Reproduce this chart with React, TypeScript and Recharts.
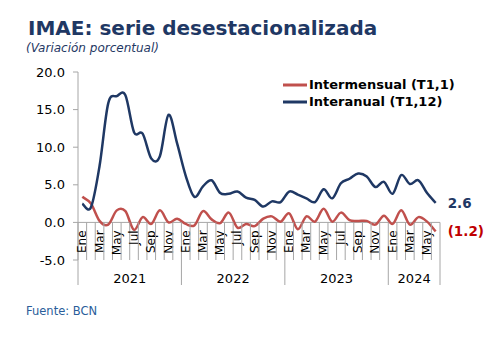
import React from 'react';
import { LineChart, Line, XAxis, YAxis, ReferenceLine, Legend, LabelList } from 'recharts';

// Serie mensual ene-2021 a jun-2024
const MONTHS = ['Ene', 'Feb', 'Mar', 'Abr', 'May', 'Jun', 'Jul', 'Ago', 'Sep', 'Oct', 'Nov', 'Dic'];
const YEARS = [2021, 2022, 2023, 2024];
const INTERANUAL = [
  2.5, 2.0, 7.5, 15.8, 16.8, 16.9, 12.0, 11.8, 8.5, 8.8, 14.3, 10.5,
  6.2, 3.4, 4.8, 5.6, 3.9, 3.8, 4.1, 3.3, 3.0, 2.1, 2.8, 2.7,
  4.1, 3.7, 3.2, 2.7, 4.4, 3.2, 5.2, 5.8, 6.5, 6.1, 4.7, 5.4,
  3.8, 6.3, 5.1, 5.6, 3.9, 2.6,
];
const INTERMENSUAL = [
  3.4, 2.5, 0.2, -0.3, 1.6, 1.5, -1.0, 0.7, -0.2, 1.6, 0.0, 0.5,
  -0.2, -0.4, 1.5, 0.4, -0.1, 1.3, -0.7, -0.2, -0.5, 0.5, 0.8, 0.1,
  1.2, -0.9, 0.8, 0.1, 1.8, 0.1, 1.3, 0.3, 0.2, 0.2, -0.3, 0.9,
  -0.2, 1.6, -0.3, 0.7, 0.1, -1.2,
];
const Y_TICKS = [-5, 0, 5, 10, 15, 20];
const LEGEND_ORDER = ['intermensual', 'interanual'];

const data = INTERANUAL.map((v, i) => ({
  mes: MONTHS[i % 12],
  anio: YEARS[Math.floor(i / 12)],
  interanual: v,
  intermensual: INTERMENSUAL[i],
}));

const W = 496;
const H = 353;
const PLOT_LEFT = 78;
const PLOT_RIGHT = 440;
const PLOT_TOP = 72;
const PLOT_BOTTOM = 260;
const Y_MIN = -5;
const Y_MAX = 20;
const BAND = (PLOT_RIGHT - PLOT_LEFT) / data.length;
const ZERO_Y = PLOT_TOP + ((PLOT_BOTTOM - PLOT_TOP) * Y_MAX) / (Y_MAX - Y_MIN);
const YEAR_BOTTOM = 285;

const GRID = '#a6a6a6';
const BLUE = '#1f3864';
const RED = '#c0504d';
const FONT = "'DejaVu Sans', Verdana, sans-serif";

// suavizado tipo Excel (Catmull-Rom)
const smoothCurve = (context: any) => {
  let pts: number[][] = [];
  return {
    areaStart() {},
    areaEnd() {},
    lineStart() {
      pts = [];
    },
    lineEnd() {
      if (!pts.length) return;
      context.moveTo(pts[0][0], pts[0][1]);
      for (let i = 0; i < pts.length - 1; i++) {
        const p0 = pts[i - 1] || pts[i];
        const p1 = pts[i];
        const p2 = pts[i + 1];
        const p3 = pts[i + 2] || pts[i + 1];
        const t = 1 / 6;
        context.bezierCurveTo(
          p1[0] + (p2[0] - p0[0]) * t,
          p1[1] + (p2[1] - p0[1]) * t,
          p2[0] - (p3[0] - p1[0]) * t,
          p2[1] - (p3[1] - p1[1]) * t,
          p2[0],
          p2[1]
        );
      }
    },
    point(x: number, y: number) {
      pts.push([+x, +y]);
    },
  };
};

const MonthTick = (props: any) => {
  const { x, index, payload } = props;
  const d = data[index];
  if (!d) return null;
  const left = x - BAND / 2;
  const yearStart = index === 0 || data[index - 1].anio !== d.anio;
  const last = index === data.length - 1;
  const count = data.filter((r) => r.anio === d.anio).length;
  return (
    <g>
      <line x1={left} x2={left} y1={ZERO_Y} y2={yearStart ? YEAR_BOTTOM : PLOT_BOTTOM} stroke={GRID} />
      {last && <line x1={x + BAND / 2} x2={x + BAND / 2} y1={ZERO_Y} y2={YEAR_BOTTOM} stroke={GRID} />}
      {index % 2 === 0 && (
        <text
          transform={`translate(${x},${ZERO_Y + 8}) rotate(-90)`}
          textAnchor="end"
          dominantBaseline="central"
          fontSize={12}
          fontFamily={FONT}
          fill="#000"
        >
          {payload.value}
        </text>
      )}
      {yearStart && (
        <text
          x={left + (BAND * count) / 2}
          y={278}
          textAnchor="middle"
          dominantBaseline="central"
          fontSize={13}
          fontFamily={FONT}
          fill="#000"
        >
          {d.anio}
        </text>
      )}
    </g>
  );
};

const fmtEnd = (v: number) => (v < 0 ? `(${Math.abs(v).toFixed(1)})` : v.toFixed(1));

const endLabel = (color: string) => (props: any) => {
  const { x, y, index, value } = props;
  if (index !== data.length - 1) return null;
  return (
    <text x={x + 12} y={y} dominantBaseline="central" fontSize={13.5} fontWeight="bold" fontFamily={FONT} fill={color}>
      {fmtEnd(value)}
    </text>
  );
};

const renderLegend = (props: any) => {
  const items = [...(props.payload || [])].sort(
    (a: any, b: any) => LEGEND_ORDER.indexOf(a.dataKey) - LEGEND_ORDER.indexOf(b.dataKey)
  );
  return (
    <div style={{ fontFamily: FONT }}>
      {items.map((p: any) => (
        <div key={p.value} style={{ display: 'flex', alignItems: 'center', height: 17 }}>
          <svg width={26} height={10}>
            <line x1={0} x2={24} y1={5} y2={5} stroke={p.color} strokeWidth={3} />
          </svg>
          <span style={{ fontWeight: 'bold', fontSize: 13, color: '#000', whiteSpace: 'nowrap' }}>{p.value}</span>
        </div>
      ))}
    </div>
  );
};

export default function App() {
  return (
    <div style={{ position: 'absolute', left: 0, top: 0, width: W, height: H, background: '#fff', fontFamily: FONT }}>
      <svg width={W} height={H} style={{ position: 'absolute', left: 0, top: 0 }}>
        <text x={28} y={35} fontSize={20} fontWeight="bold" fill={BLUE} fontFamily={FONT}>
          IMAE: serie desestacionalizada
        </text>
        <text x={26} y={52} fontSize={12} fontStyle="italic" fill={BLUE} fontFamily={FONT}>
          (Variación porcentual)
        </text>
        <text x={26} y={315} fontSize={11.5} fill="#2a5d9a" fontFamily={FONT}>
          Fuente: BCN
        </text>
      </svg>
      <div style={{ position: 'absolute', left: 0, top: 0 }}>
        <LineChart
          width={W}
          height={H}
          data={data}
          margin={{ top: PLOT_TOP, right: W - PLOT_RIGHT, bottom: H - PLOT_BOTTOM - 25, left: PLOT_LEFT - 50 }}
        >
          <XAxis
            dataKey="mes"
            height={25}
            interval={0}
            axisLine={false}
            tickLine={false}
            padding={{ left: BAND / 2, right: BAND / 2 }}
            tick={<MonthTick />}
          />
          <YAxis
            width={50}
            domain={[Y_MIN, Y_MAX]}
            ticks={Y_TICKS}
            interval={0}
            tickFormatter={(v: number) => v.toFixed(1)}
            tick={{ fontSize: 13, fill: '#000', fontFamily: FONT }}
            axisLine={{ stroke: GRID }}
            tickLine={{ stroke: GRID }}
            tickSize={5}
            tickMargin={8}
          />
          <ReferenceLine y={0} stroke={GRID} strokeWidth={1} />
          <Legend
            layout="vertical"
            align="center"
            verticalAlign="middle"
            wrapperStyle={{ left: 283, top: 76, width: 'auto' }}
            content={renderLegend}
          />
          <Line
            name="Intermensual (T1,1)"
            dataKey="intermensual"
            type={smoothCurve as any}
            stroke={RED}
            strokeWidth={2.5}
            dot={false}
            isAnimationActive={false}
          >
            <LabelList dataKey="intermensual" content={endLabel('#c00000')} />
          </Line>
          <Line
            name="Interanual (T1,12)"
            dataKey="interanual"
            type={smoothCurve as any}
            stroke={BLUE}
            strokeWidth={2.5}
            dot={false}
            isAnimationActive={false}
          >
            <LabelList dataKey="interanual" content={endLabel(BLUE)} />
          </Line>
        </LineChart>
      </div>
    </div>
  );
}
